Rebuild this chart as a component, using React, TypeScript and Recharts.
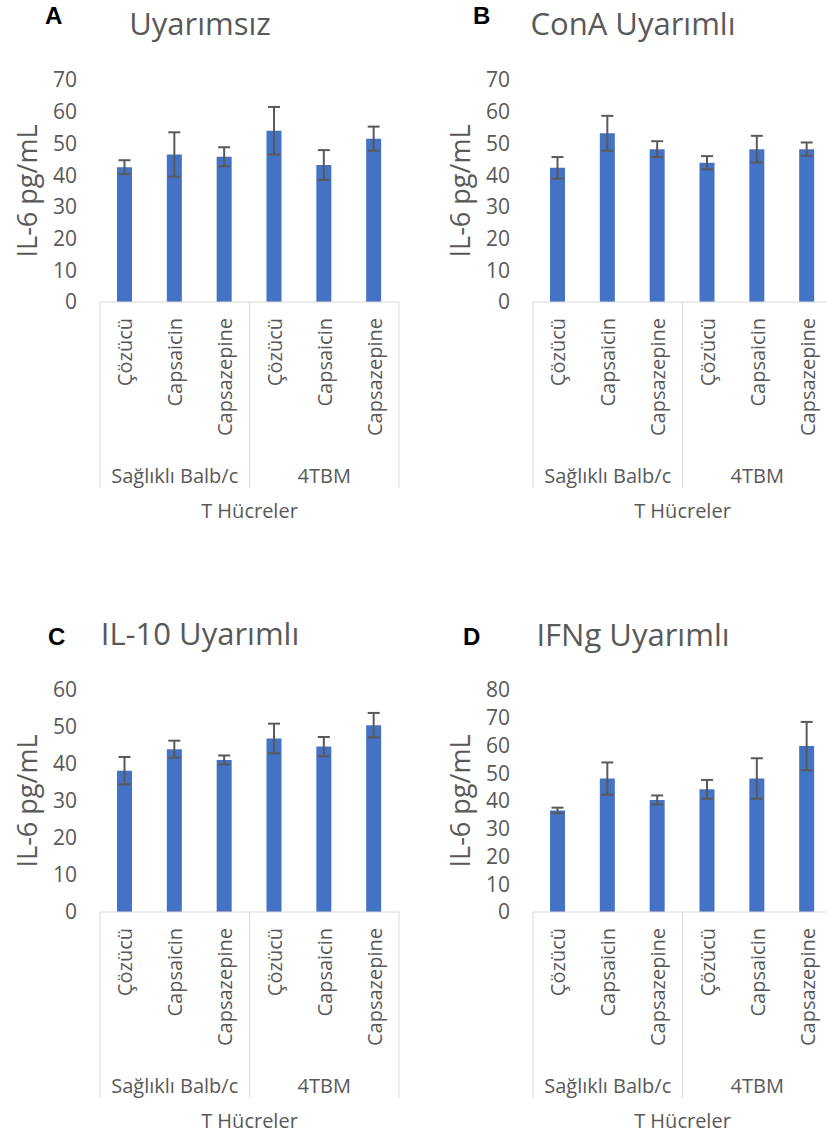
import React from 'react';
import { BarChart, Bar, XAxis, YAxis, ErrorBar } from 'recharts';

const treatments = ['Çözücü', 'Capsaicin', 'Capsazepine', 'Çözücü', 'Capsaicin', 'Capsazepine'];
const groups = ['Sağlıklı Balb/c', 'Sağlıklı Balb/c', 'Sağlıklı Balb/c', '4TBM', '4TBM', '4TBM'];

const valuesA = [42.5, 46.5, 45.8, 54.0, 43.2, 51.5];
const errorsA = [2.2, 7.0, 3.0, 7.5, 4.7, 3.8];
const valuesB = [42.3, 53.2, 48.2, 43.9, 48.2, 48.2];
const errorsB = [3.4, 5.5, 2.5, 2.1, 4.2, 2.1];
const valuesC = [38.2, 44.0, 41.1, 46.9, 44.7, 50.5];
const errorsC = [3.7, 2.3, 1.2, 4.0, 2.6, 3.3];
const valuesD = [36.6, 48.1, 40.4, 44.2, 48.1, 59.8];
const errorsD = [1.0, 5.8, 1.6, 3.4, 7.3, 8.7];

const ticksA = [0, 10, 20, 30, 40, 50, 60, 70];
const ticksB = [0, 10, 20, 30, 40, 50, 60, 70];
const ticksC = [0, 10, 20, 30, 40, 50, 60];
const ticksD = [0, 10, 20, 30, 40, 50, 60, 70, 80];

const titles = ['Uyarımsız', 'ConA Uyarımlı', 'IL-10 Uyarımlı', 'IFNg Uyarımlı'];
const letters = ['A', 'B', 'C', 'D'];
const yTitle = 'IL-6 pg/mL';
const xTitle = 'T Hücreler';

const FONT = '"Open Sans", sans-serif';
const GRAY = '#595959';
const LINE = '#D9D9D9';
const BLUE = '#4472C4';

const buildData = (values: number[], errors: number[]) =>
  treatments.map((t, i) => ({ treat: t, group: groups[i], value: values[i], err: errors[i] }));

const TreatTick = (props: any) => {
  const { x, y, payload, index } = props;
  const half = payload && payload.offset ? payload.offset : 25;
  const lines: number[] = [];
  if (index === 0 || groups[index] !== groups[index - 1]) lines.push(x - half);
  if (index === treatments.length - 1) lines.push(x + half);
  return (
    <g>
      {lines.map((lx, i) => (
        <line key={i} x1={lx} x2={lx} y1={y} y2={y + 186} stroke={LINE} strokeWidth={1} />
      ))}
      <text
        transform={`translate(${x},${y + 16}) rotate(-90)`}
        textAnchor="end"
        dominantBaseline="central"
        fontSize={20}
        fill={GRAY}
        fontFamily={FONT}
      >
        {payload.value}
      </text>
    </g>
  );
};

const GroupTick = (props: any) => {
  const { x, y, payload } = props;
  return (
    <text x={x} y={y + 23} textAnchor="middle" dominantBaseline="central" fontSize={20} fill={GRAY} fontFamily={FONT}>
      {payload.value}
    </text>
  );
};

const XLabel = (props: any) => {
  const vb = props.viewBox || {};
  return (
    <text x={vb.x + vb.width / 2} y={vb.y + 58} textAnchor="middle" dominantBaseline="central" fontSize={20} fill={GRAY} fontFamily={FONT}>
      {xTitle}
    </text>
  );
};

const YLabel = (props: any) => {
  const vb = props.viewBox || {};
  const cx = vb.x + 26;
  const cy = vb.y + vb.height / 2;
  return (
    <text transform={`translate(${cx},${cy}) rotate(-90)`} textAnchor="middle" dominantBaseline="central" fontSize={27} fill={GRAY} fontFamily={FONT}>
      {yTitle}
    </text>
  );
};

function Panel({ left, top, values, errors, ticks }: any) {
  const data = buildData(values, errors);
  const max = ticks[ticks.length - 1];
  return (
    <div style={{ position: 'absolute', left, top }}>
      <BarChart width={413} height={542} data={data} margin={{ top: 80, right: 14, bottom: 0, left: 0 }}>
        <XAxis
          dataKey="treat"
          interval={0}
          axisLine={{ stroke: LINE, strokeWidth: 1 }}
          tickLine={false}
          tickSize={0}
          tickMargin={0}
          height={150}
          tick={(p: any) => <TreatTick {...p} />}
        />
        <XAxis
          xAxisId="grp"
          dataKey="group"
          allowDuplicatedCategory={false}
          interval={0}
          axisLine={false}
          tickLine={false}
          tickSize={0}
          tickMargin={0}
          height={90}
          tick={(p: any) => <GroupTick {...p} />}
          label={(p: any) => <XLabel {...p} />}
        />
        <YAxis
          type="number"
          domain={[0, max]}
          ticks={ticks}
          interval={0}
          axisLine={false}
          tickLine={false}
          tickSize={0}
          tickMargin={23}
          width={100}
          tick={{ fontSize: 21, fill: GRAY, fontFamily: FONT }}
          label={(p: any) => <YLabel {...p} />}
        />
        <Bar dataKey="value" fill={BLUE} barSize={15} isAnimationActive={false}>
          <ErrorBar dataKey="err" width={6} stroke={GRAY} strokeWidth={2} />
        </Bar>
      </BarChart>
    </div>
  );
}

export default function App() {
  return (
    <div style={{ position: 'absolute', left: 0, top: 0, width: 826, height: 1142, overflow: 'hidden', background: '#fff' }}>
      <Panel left={0} top={0} values={valuesA} errors={errorsA} ticks={ticksA} />
      <Panel left={433} top={0} values={valuesB} errors={errorsB} ticks={ticksB} />
      <Panel left={0} top={610} values={valuesC} errors={errorsC} ticks={ticksC} />
      <Panel left={433} top={610} values={valuesD} errors={errorsD} ticks={ticksD} />
      <svg width={826} height={1142} style={{ position: 'absolute', left: 0, top: 0, pointerEvents: 'none' }}>
        <text x={45} y={24} fontSize={24} fontWeight="bold" fill="#000" fontFamily='"Liberation Sans", Arial, sans-serif'>{letters[0]}</text>
        <text x={473} y={24} fontSize={24} fontWeight="bold" fill="#000" fontFamily='"Liberation Sans", Arial, sans-serif'>{letters[1]}</text>
        <text x={48} y={645} fontSize={24} fontWeight="bold" fill="#000" fontFamily='"Liberation Sans", Arial, sans-serif'>{letters[2]}</text>
        <text x={463} y={645} fontSize={24} fontWeight="bold" fill="#000" fontFamily='"Liberation Sans", Arial, sans-serif'>{letters[3]}</text>
        <text x={200} y={35} fontSize={31} textAnchor="middle" fill={GRAY} fontFamily={FONT}>{titles[0]}</text>
        <text x={633} y={35} fontSize={31} textAnchor="middle" fill={GRAY} fontFamily={FONT}>{titles[1]}</text>
        <text x={200} y={645} fontSize={31} textAnchor="middle" fill={GRAY} fontFamily={FONT}>{titles[2]}</text>
        <text x={633} y={646} fontSize={31} textAnchor="middle" fill={GRAY} fontFamily={FONT}>{titles[3]}</text>
      </svg>
    </div>
  );
}
